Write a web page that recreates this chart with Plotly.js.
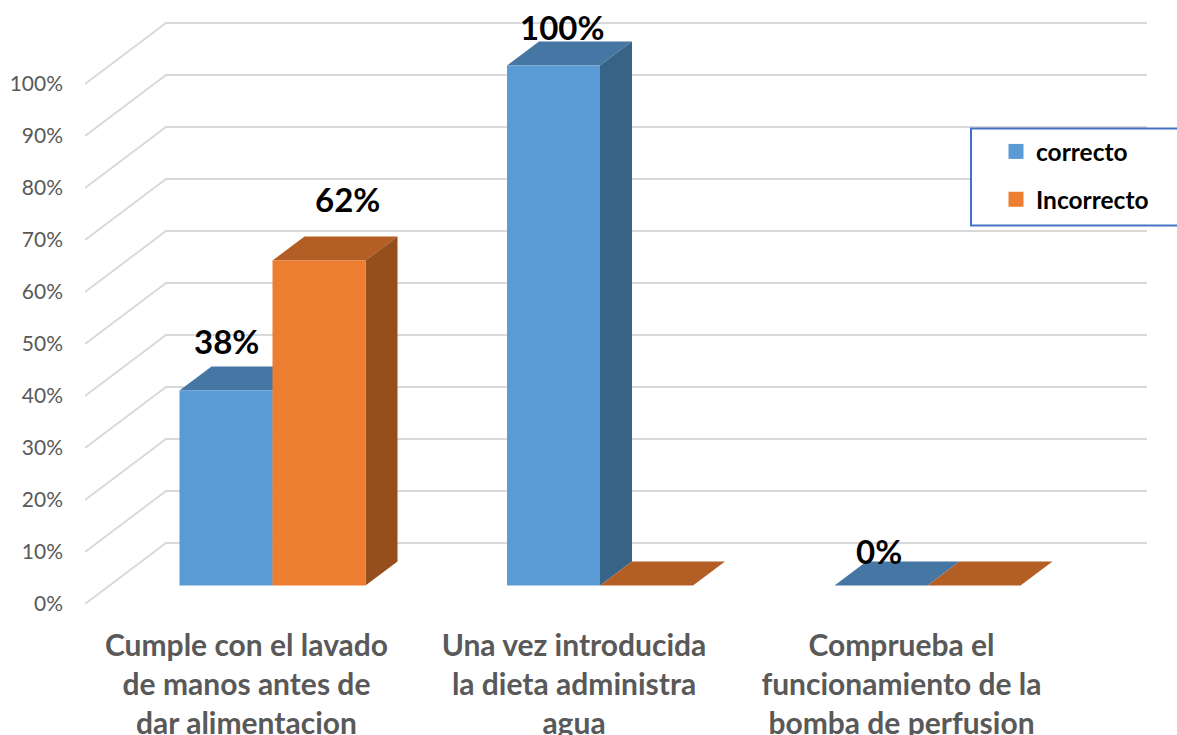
<!DOCTYPE html>
<html>
<head>
<meta charset="utf-8">
<script src="https://cdn.plot.ly/plotly-3.0.1.min.js"></script>
<style>html,body{margin:0;padding:0;background:#fff;overflow:hidden}</style>
</head>
<body>
<div id="chart" style="width:1177px;height:735px"></div>
<script>
const categories = ["Cumple con el lavado<br>de manos antes de<br>dar alimentacion",
                    "Una vez introducida<br>la dieta administra<br>agua",
                    "Comprueba el<br>funcionamiento de la<br>bomba de perfusion"];
const seriesNames = ["correcto", "Incorrecto"];
const correcto = [37.5, 100, 0];
const incorrecto = [62.5, 0, 0];
const correctoLabels = ["38%", "100%", "0%"];
const incorrectoLabels = ["62%", "", ""];
const yTicks = [0,10,20,30,40,50,60,70,80,90,100];
const yTickLabels = yTicks.map(v => v + "%");

// pixel geometry of the fake 3D box, expressed in axis units
const PXY = 5.2, PXX = 327.5, origin = 272.5;
const plotH = 604, plotW = 1092, left = 85;
const x0 = (left - origin) / PXX, x1 = (left + plotW - origin) / PXX;
const barW = 93 / PXX;
const barDX = 32 / PXX, barDY = 24 / PXY;
const floor = 18.5 / PXY;
const wallDX = 81 / PXX, wallDY = 61 / PXY;
const wallEnd = (1147 - origin) / PXX;
const xLeft = x0;

const colors = {blue:"#5b9bd5", blueTop:"#4676a3", blueSide:"#376387",
                orange:"#ed7d31", orangeTop:"#b25e24", orangeSide:"#954f1d"};

function poly(pts, fill){
  return {type:"path", xref:"x", yref:"y", layer:"below", fillcolor:fill,
          line:{width:0},
          path:"M"+pts.map(p=>p[0]+","+p[1]).join("L")+"Z"};
}
function gridLine(v){
  const a=[xLeft,v], b=[xLeft+wallDX,v+wallDY], c=[wallEnd,v+wallDY];
  return {type:"path", xref:"x", yref:"y", layer:"below",
          line:{color:"#d9d9d9",width:2},
          path:`M${a[0]},${a[1]}L${b[0]},${b[1]}L${c[0]},${c[1]}`};
}
function faces(vals, offset, top, side){
  const out=[];
  vals.forEach((v,i)=>{
    const l=i+(offset-1)*barW, r=l+barW, t=floor+v;
    out.push(poly([[l,t],[r,t],[r+barDX,t+barDY],[l+barDX,t+barDY]],top));
    out.push(poly([[r,floor],[r+barDX,floor+barDY],[r+barDX,t+barDY],[r,t]],side));
  });
  return out;
}
// legend frame: runs off the right edge of the picture, as in the reference
const legendFrame = {type:"rect", xref:"x", yref:"y", layer:"below",
  x0:(971-origin)/PXX, x1:(1190-origin)/PXX, y0:(plotH-225.5)/PXY, y1:(plotH-128.5)/PXY,
  fillcolor:"#fff", line:{color:"#4472c4",width:2}};

const shapes = yTicks.map(gridLine)
  .concat([legendFrame])
  .concat(faces(correcto,0,colors.blueTop,colors.blueSide))
  .concat(faces(incorrecto,1,colors.orangeTop,colors.orangeSide));

function barTrace(name, vals, color, group){
  return {type:"bar", name:name, x:[0,1,2], y:vals, base:[floor,floor,floor],
          marker:{color:color,line:{width:0}}, legendgroup:group, offsetgroup:group,
          showlegend:false, hoverinfo:"name+y"};
}
function legendKey(name, color, group){
  return {type:"scatter", mode:"markers", name:name, x:[null], y:[null],
          marker:{symbol:"square",size:15,color:color}, legendgroup:group,
          showlegend:true, hoverinfo:"skip"};
}
const traces = [barTrace(seriesNames[0],correcto,colors.blue,"a"),
                barTrace(seriesNames[1],incorrecto,colors.orange,"b"),
                legendKey(seriesNames[0],colors.blue,"a"),
                legendKey(seriesNames[1],colors.orange,"b")];

function label(x,v,text,dx,dy){
  return {xref:"x",yref:"y",x:x,y:v+floor,text:"<b>"+text+"</b>",showarrow:false,
          xshift:dx,yshift:dy,xanchor:"center",yanchor:"middle",
          font:{family:"Lato",size:33,color:"#000"}};
}
const annotations = [
  label(-barW/2,correcto[0],correctoLabels[0],0,50),
  label(barW/2,incorrecto[0],incorrectoLabels[0],28,62),
  label(1-barW/2,correcto[1],correctoLabels[1],8,39),
  label(2-barW/2,correcto[2],correctoLabels[2],-2,35)
];

const layout = {
  width:1177, height:735, paper_bgcolor:"#fff", plot_bgcolor:"rgba(0,0,0,0)",
  margin:{l:left,r:0,t:0,b:735-plotH,pad:0},
  barmode:"group", bargap:1-2*barW, bargroupgap:0,
  font:{family:"Lato",color:"#595959"},
  xaxis:{range:[x0,x1],tickmode:"array",tickvals:[0,1,2].map(i=>i-26/PXX),ticktext:categories,
         showgrid:false,zeroline:false,showline:false,ticks:"",fixedrange:true,ticklabelstandoff:21,
         tickangle:0,tickfont:{family:"Lato",size:30,color:"#595959",weight:700},automargin:false},
  yaxis:{range:[0,plotH/PXY],tickmode:"array",tickvals:yTicks,ticktext:yTickLabels,
         showgrid:false,zeroline:false,showline:false,ticks:"",fixedrange:true,ticklabelstandoff:21,
         tickfont:{family:"Lato",size:21,color:"#595959"},automargin:false},
  shapes:shapes, annotations:annotations,
  legend:{x:(971-left)/plotW,xanchor:"left",y:1-129/plotH,yanchor:"top",
          bgcolor:"rgba(0,0,0,0)",borderwidth:0,
          font:{family:"Lato",size:24.5,color:"#000",weight:700},
          traceorder:"grouped",tracegroupgap:13,itemwidth:30,indentation:25}
};
Plotly.newPlot("chart",traces,layout,{displayModeBar:false});
</script>
</body>
</html>
